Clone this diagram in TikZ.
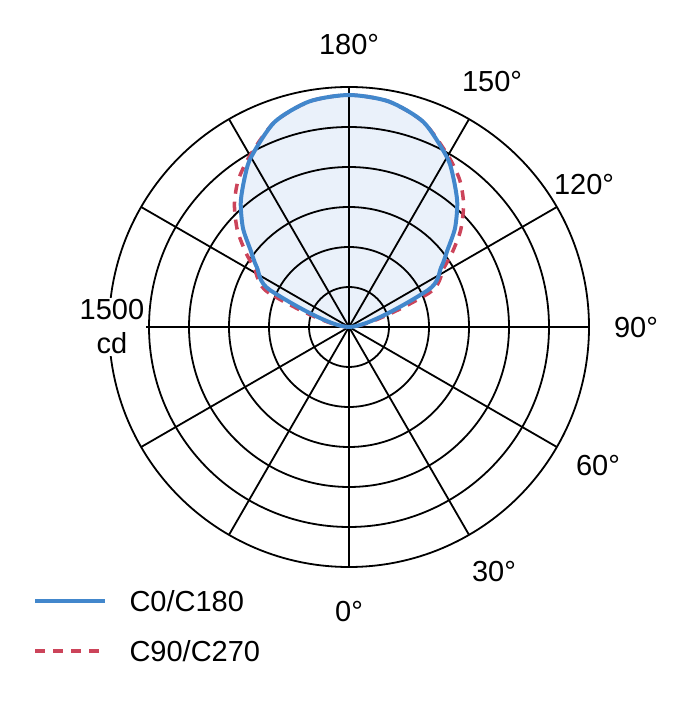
\documentclass[tikz,border=0pt]{standalone}
\usepackage{fontspec}
\setmainfont{Liberation Sans}
\begin{document}
\begin{tikzpicture}[x=1pt,y=1pt,
  grid/.style={black,line width=1.8pt},
  lbl/.style={font=\fontsize{29}{32}\selectfont},
  blueline/.style={draw={rgb,255:red,66;green,135;blue,204},line width=4pt,line join=round},
  redline/.style={draw={rgb,255:red,204;green,68;blue,90},line width=3.5pt,dash pattern=on 10pt off 8pt}]
\useasboundingbox (0,0) rectangle (680,720);
\coordinate (C) at (349,393);
\begin{scope}[shift={(C)}]
\def\redpts{(0,0) (157:87) (148:112) (144:128) (139:148) (133:168) (127:184) (120:198) (110:218) (100:229) (90:232) (80:229) (70:218) (60:198) (53:184) (47:168) (41:148) (36:128) (32:112) (23:87)}
\def\bluepts{(0,0) (155:87) (147:110) (142:125) (137:145) (131:165) (125:182) (120:196) (110:218) (100:229) (90:232) (80:229) (70:218) (60:196) (55:182) (49:165) (43:145) (38:125) (33:110) (25:87)}
\fill[fill={rgb,255:red,234;green,241;blue,250}] plot[smooth cycle,tension=0.45] coordinates {\bluepts};
\foreach \r in {40,80,...,240} \draw[grid] (0,0) circle (\r);
\foreach \a in {0,30,...,330} \draw[grid] (0,0) -- (\a:240);
\draw[redline] plot[smooth cycle,tension=0.45] coordinates {\redpts};
\draw[blueline] plot[smooth cycle,tension=0.45] coordinates {\bluepts};
\end{scope}
\node[lbl] (l180) at (349,675) {180°};
\node[lbl] (l150) at (492,638) {150°};
\node[lbl] (l120) at (584,535) {120°};
\node[lbl] (l90) at (636,392) {90°};
\node[lbl] (l60) at (598,254) {60°};
\node[lbl] (l30) at (494,148) {30°};
\node[lbl] (l0) at (349,108) {0°};
\node[lbl,align=center,fill=white,inner sep=2pt] (cd) at (112,393) {1500\\[2pt]cd};
\coordinate (b1) at (35,119); \coordinate (b2) at (105,119);
\draw[blueline] (b1) -- (b2);
\node[lbl,anchor=west] (t1) at (126,119) {C0/C180};
\coordinate (r1) at (35,69); \coordinate (r2) at (105,69);
\draw[redline] (r1) -- (r2);
\node[lbl,anchor=west] (t2) at (126,69) {C90/C270};
\end{tikzpicture}
\end{document}
